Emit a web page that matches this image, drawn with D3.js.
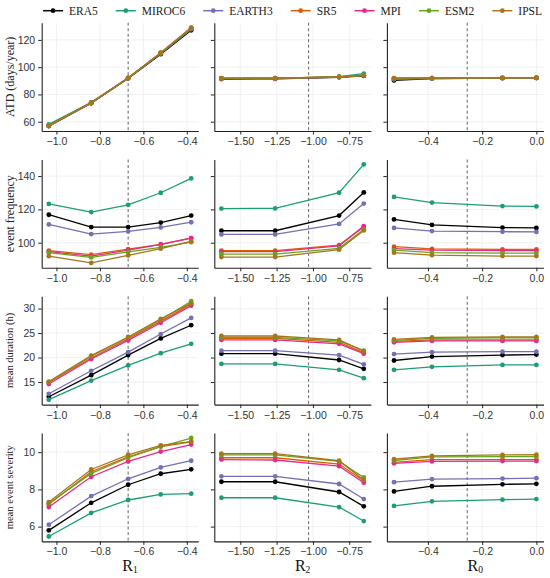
<!DOCTYPE html>
<html>
<head>
<meta charset="utf-8">
<script src="https://cdn.jsdelivr.net/npm/d3@7"></script>
<style>
  body { margin: 0; background: #fff; }
  svg { font-family: "Liberation Serif", "DejaVu Serif", serif; }
  .grid line { stroke: #ebebeb; stroke-width: 0.7; }
  .axis path, .axis line { stroke: #222; }
  .axis text { fill: #333; font-size: 10.5px; }
</style>
</head>
<body>
<svg id="chart" width="550" height="578"></svg>
<script>
// models and colours (Dark2 with black for ERA5)
const models = ["ERA5", "MIROC6", "EARTH3", "SR5", "MPI", "ESM2", "IPSL"];
const colors = ["#000000", "#1b9e77", "#7570b3", "#d95f02", "#e7298a", "#66a61e", "#a6761d"];

// threshold values on the x axis of each column
const xR1 = [-1.035, -0.84, -0.67, -0.52, -0.38];
const xR2 = [-1.63, -1.26, -0.82, -0.65];
const xR0 = [-0.525, -0.385, -0.125, 0.0];
const refLines = [-0.67, -1.03, -0.255];

const xTicks = [[-1.0, -0.8, -0.6, -0.4], [-1.5, -1.25, -1.0, -0.75], [-0.4, -0.2, 0.0]];
const xFormats = [".1f", ".2f", ".1f"];
const xTitles = [["R", "1"], ["R", "2"], ["R", "0"]];

const rowTitles = ["ATD (days/year)", "event frequency", "mean duration (h)", "mean event severity"];
const rowTitleSize = [12, 12, 10.5, 10.5];
const yTicks = [[60, 80, 100, 120], [100, 120, 140], [15, 20, 25, 30], [6, 8, 10]];

// ATD (days/year)
const atdR1 = [
  [56.8, 73.5, 91.8, 109.5, 127.0],
  [58.0, 74.2, 92.0, 110.0, 127.8],
  [57.2, 73.8, 92.0, 110.2, 128.2],
  [57.0, 73.9, 92.1, 110.5, 128.8],
  [57.0, 73.8, 92.0, 110.3, 128.5],
  [57.1, 73.9, 92.1, 110.4, 128.6],
  [57.0, 73.9, 92.1, 110.6, 129.0]
];
const atdR2 = [
  [91.3, 91.5, 92.6, 93.6],
  [91.8, 91.8, 93.0, 95.2],
  [91.6, 91.7, 92.7, 94.0],
  [91.8, 91.9, 92.8, 94.2],
  [91.7, 91.8, 92.7, 94.0],
  [91.8, 91.9, 92.8, 94.1],
  [91.9, 91.9, 92.8, 94.0]
];
const atdR0 = [
  [90.3, 91.6, 92.0, 92.1],
  [91.0, 91.7, 92.0, 92.1],
  [91.5, 91.8, 92.0, 92.1],
  [91.9, 92.0, 92.1, 92.2],
  [91.8, 91.9, 92.0, 92.1],
  [91.8, 92.0, 92.1, 92.2],
  [92.0, 92.0, 92.1, 92.2]
];

// event frequency
const freqR1 = [
  [116.8, 109.4, 109.4, 112.1, 116.3],
  [123.3, 118.4, 122.7, 130.0, 138.6],
  [111.0, 105.2, 106.8, 109.2, 112.3],
  [95.2, 92.8, 96.2, 99.0, 102.8],
  [94.6, 92.0, 95.5, 99.0, 102.7],
  [94.0, 91.2, 94.5, 97.2, 100.3],
  [91.9, 87.9, 92.4, 96.4, 100.8]
];
const freqR2 = [
  [107.2, 107.2, 116.3, 130.2],
  [120.5, 120.6, 130.0, 147.0],
  [105.0, 105.0, 111.3, 123.5],
  [95.3, 95.3, 98.6, 109.5],
  [94.6, 94.6, 98.1, 110.0],
  [93.1, 93.1, 96.6, 108.0],
  [91.4, 91.4, 95.8, 107.4]
];
const freqR0 = [
  [114.0, 110.7, 109.1, 108.9],
  [127.5, 124.1, 122.0, 121.8],
  [108.9, 107.0, 106.6, 106.5],
  [97.6, 96.3, 96.0, 96.0],
  [96.5, 95.5, 95.2, 95.2],
  [95.5, 94.0, 93.8, 93.8],
  [94.0, 92.5, 92.0, 92.0]
];

// mean duration (h)
const durR1 = [
  [12.0, 16.4, 20.5, 23.9, 26.6],
  [11.4, 15.3, 18.4, 20.9, 22.8],
  [12.6, 17.3, 21.1, 24.8, 28.1],
  [14.9, 19.9, 23.8, 27.4, 30.9],
  [14.6, 19.7, 23.5, 27.1, 30.6],
  [15.0, 20.3, 24.1, 27.7, 31.5],
  [15.1, 20.4, 24.2, 27.9, 31.1]
];
const durR2 = [
  [20.8, 20.8, 19.5, 17.7],
  [18.7, 18.7, 17.5, 15.8],
  [21.4, 21.4, 20.5, 18.6],
  [23.9, 23.9, 23.1, 21.0],
  [23.6, 23.6, 22.8, 20.8],
  [24.1, 24.1, 23.4, 21.4],
  [24.4, 24.4, 23.6, 21.3]
];
const durR0 = [
  [19.4, 20.2, 20.5, 20.6],
  [17.5, 18.1, 18.5, 18.5],
  [20.7, 21.1, 21.2, 21.2],
  [23.3, 23.6, 23.6, 23.6],
  [23.1, 23.4, 23.4, 23.4],
  [23.5, 23.9, 24.0, 24.0],
  [23.7, 24.1, 24.2, 24.2]
];

// mean event severity
const sevR1 = [
  [5.8, 7.28, 8.25, 8.84, 9.08],
  [5.47, 6.74, 7.43, 7.73, 7.77],
  [6.1, 7.64, 8.57, 9.18, 9.54],
  [7.2, 8.95, 9.75, 10.3, 10.55],
  [7.05, 8.68, 9.5, 10.03, 10.41],
  [7.25, 8.86, 9.7, 10.3, 10.76],
  [7.32, 9.07, 9.86, 10.37, 10.57]
];
const sevR2 = [
  [8.41, 8.41, 7.86, 7.09],
  [7.55, 7.55, 7.05, 6.3],
  [8.7, 8.7, 8.29, 7.48],
  [9.7, 9.7, 9.36, 8.45],
  [9.6, 9.58, 9.25, 8.36],
  [9.85, 9.85, 9.5, 8.64],
  [9.92, 9.92, 9.54, 8.5]
];
const sevR0 = [
  [7.89, 8.17, 8.27, 8.3],
  [7.11, 7.36, 7.45, 7.48],
  [8.39, 8.55, 8.58, 8.6],
  [9.45, 9.6, 9.6, 9.6],
  [9.4, 9.5, 9.52, 9.52],
  [9.55, 9.75, 9.76, 9.76],
  [9.62, 9.8, 9.85, 9.86]
];

const xValues = [xR1, xR2, xR0];
const panels = [
  [atdR1, atdR2, atdR0],
  [freqR1, freqR2, freqR0],
  [durR1, durR2, durR0],
  [sevR1, sevR2, sevR0]
];

const layout = {
  left: 41.7, colStep: 172.6, panelW: 156.6,
  top: 22.7, rowStep: 136.8, panelH: 108.3
};

const svg = d3.select("#chart");

// ggplot-like 5% expansion of the data range
const expand = (ext) => {
  const pad = (ext[1] - ext[0]) * 0.05;
  return [ext[0] - pad, ext[1] + pad];
};

const xScales = xValues.map((xs) =>
  d3.scaleLinear().domain(expand(d3.extent(xs))).range([0, layout.panelW])
);

panels.forEach((rowData, r) => {
  const allVals = rowData.flat(2);
  const y = d3.scaleLinear().domain(expand(d3.extent(allVals))).range([layout.panelH, 0]);

  rowData.forEach((series, c) => {
    const x = xScales[c];
    const g = svg
      .append("g")
      .attr("transform", `translate(${layout.left + c * layout.colStep},${layout.top + r * layout.rowStep})`);

    // grid
    const grid = g.append("g").attr("class", "grid");
    grid.selectAll(".gx").data(xTicks[c]).enter().append("line")
      .attr("x1", (d) => x(d)).attr("x2", (d) => x(d))
      .attr("y1", 0).attr("y2", layout.panelH);
    grid.selectAll(".gy").data(yTicks[r]).enter().append("line")
      .attr("x1", 0).attr("x2", layout.panelW)
      .attr("y1", (d) => y(d)).attr("y2", (d) => y(d));

    // dashed reference line
    g.append("line")
      .attr("x1", x(refLines[c])).attr("x2", x(refLines[c]))
      .attr("y1", 0).attr("y2", layout.panelH)
      .style("stroke", "#555")
      .style("stroke-width", 0.9)
      .style("stroke-dasharray", "3,2.5");

    // series
    const line = d3.line().x((d, i) => x(xValues[c][i])).y((d) => y(d));
    series.forEach((vals, m) => {
      g.append("path")
        .datum(vals)
        .attr("d", line)
        .style("fill", "none")
        .style("stroke", colors[m])
        .style("stroke-width", 1.3);
      g.selectAll(`.pt-${m}`)
        .data(vals)
        .enter()
        .append("circle")
        .attr("class", `pt-${m}`)
        .attr("cx", (d, i) => x(xValues[c][i]))
        .attr("cy", (d) => y(d))
        .attr("r", 2.4)
        .style("fill", colors[m]);
    });

    // axes
    const yAxis = d3.axisLeft(y).tickValues(yTicks[r]).tickFormat(d3.format("d"))
      .tickSizeInner(3.5).tickSizeOuter(0).tickPadding(3);
    if (c > 0) yAxis.tickFormat("");
    g.append("g").attr("class", "axis").call(yAxis);

    g.append("g")
      .attr("class", "axis")
      .attr("transform", `translate(0,${layout.panelH})`)
      .call(
        d3.axisBottom(x).tickValues(xTicks[c]).tickFormat(d3.format(xFormats[c]))
          .tickSizeInner(3.5).tickSizeOuter(0).tickPadding(3)
      );

    g.selectAll(".axis path").style("stroke-width", 1.1);
  });

  // row title
  const cy = layout.top + r * layout.rowStep + layout.panelH / 2;
  svg.append("text")
    .attr("transform", `translate(11,${cy}) rotate(-90)`)
    .attr("text-anchor", "middle")
    .attr("dominant-baseline", "middle")
    .style("font-size", rowTitleSize[r] + "px")
    .style("fill", "#222")
    .text(rowTitles[r]);
});

// column titles with subscripts
xTitles.forEach((t, c) => {
  const t0 = svg.append("text")
    .attr("x", layout.left + c * layout.colStep + layout.panelW / 2 + 10)
    .attr("y", 571)
    .attr("text-anchor", "middle")
    .style("font-size", "16px")
    .style("fill", "#111");
  t0.append("tspan").text(t[0]);
  t0.append("tspan").attr("dy", 2).style("font-size", "9.5px").text(t[1]);
});

// legend, right aligned
const legend = svg.append("g");
const items = legend.selectAll("g").data(models).enter().append("g");
items.append("line")
  .attr("x1", 0).attr("x2", 20).attr("y1", 0).attr("y2", 0)
  .style("stroke", (d, i) => colors[i]).style("stroke-width", 1.5);
items.append("circle").attr("cx", 10).attr("cy", 0).attr("r", 2.4)
  .style("fill", (d, i) => colors[i]);
items.append("text")
  .attr("x", 26).attr("y", 0)
  .attr("dominant-baseline", "central")
  .style("font-size", "11.5px")
  .style("fill", "#222")
  .text((d) => d);

let cursor = 0;
items.each(function () {
  const w = d3.select(this).select("text").node().getComputedTextLength();
  d3.select(this).attr("transform", `translate(${cursor},0)`);
  cursor += 26 + w + 18;
});
const legendW = cursor - 18;
legend.attr("transform", `translate(${542 - legendW},10.7)`);
</script>
</body>
</html>
